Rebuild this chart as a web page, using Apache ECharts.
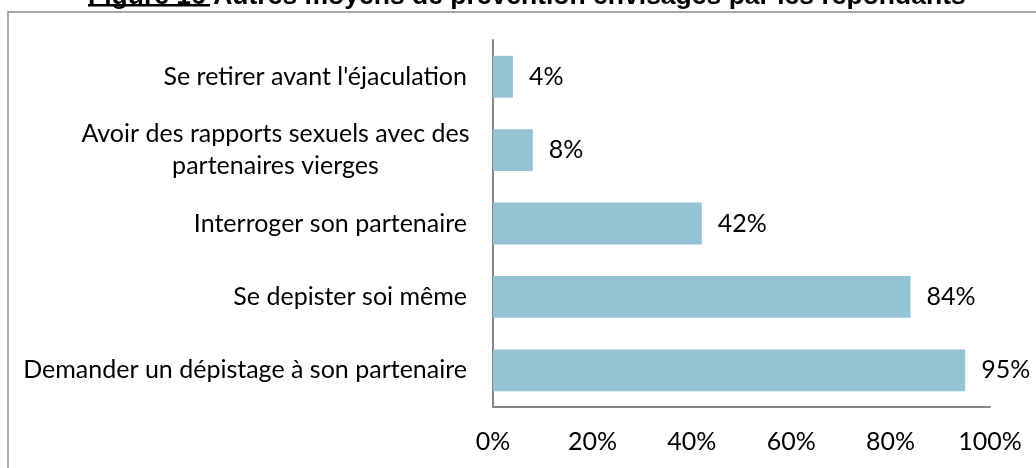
<!DOCTYPE html>
<html>
<head>
<meta charset="utf-8">
<script src="https://cdn.jsdelivr.net/npm/echarts@6/dist/echarts.min.js"></script>
<style>
  html, body { margin: 0; padding: 0; background: #fff; }
  #chart { width: 1036px; height: 468px; }
</style>
</head>
<body>
<div id="chart"></div>
<script>
// categories listed bottom to top (category axis starts at the bottom)
const categories = [
  'Demander un dépistage à son partenaire',
  'Se depister soi même',
  'Interroger son partenaire',
  'Avoir des rapports sexuels avec des\npartenaires vierges',
  "Se retirer avant l'éjaculation"
];
const percentValues = [95, 84, 42, 8, 4];
const xTicks = [0, 20, 40, 60, 80, 100];

const chart = echarts.init(document.getElementById('chart'));
const labelFont = 'Lato, "Open Sans", sans-serif';
const titleFont = 'bold 26.5px Arial, "Liberation Sans", sans-serif';

const option = {
  animation: false,
  graphic: [
    // frame around the plot
    {
      type: 'rect',
      shape: { x: 8, y: 12, width: 1040, height: 470 },
      style: { fill: 'none', stroke: '#8c8c8c', lineWidth: 1.5 },
      silent: true
    },
    // title, cut at the top of the picture
    {
      type: 'text',
      x: 88,
      y: 10,
      style: {
        text: 'Figure 16 Autres moyens de prévention envisagés par les répondants',
        font: titleFont,
        fill: '#000',
        verticalAlign: 'bottom'
      }
    },
    // underline for "Figure 16"
    {
      type: 'rect',
      shape: { x: 88, y: 4, width: 122, height: 2.5 },
      style: { fill: '#000' },
      silent: true
    }
  ],
  grid: { left: 493, right: 46, top: 40, bottom: 61, containLabel: false },
  xAxis: {
    type: 'value',
    min: 0,
    max: 100,
    interval: 20,
    axisLine: { show: true, lineStyle: { color: '#868686', width: 2 } },
    axisTick: { show: false },
    splitLine: { show: false },
    axisLabel: {
      margin: 22,
      color: '#000',
      fontSize: 25,
      fontFamily: labelFont,
      formatter: v => (xTicks.includes(v) ? v + '%' : '')
    }
  },
  yAxis: {
    type: 'category',
    data: categories,
    axisLine: { show: true, lineStyle: { color: '#868686', width: 2 } },
    axisTick: { show: false },
    axisLabel: {
      margin: 26,
      color: '#000',
      fontSize: 25,
      lineHeight: 32,
      align: 'right',
      fontFamily: labelFont,
      // wrapped labels are centred line by line, like the original
      formatter: v => v.includes('\n')
        ? v.split('\n').map(s => '{c|' + s + '}').join('\n')
        : v,
      rich: {
        c: {
          width: 383,
          align: 'center',
          fontSize: 25,
          lineHeight: 32,
          fontFamily: labelFont,
          color: '#000'
        }
      }
    }
  },
  series: [
    {
      type: 'bar',
      data: percentValues,
      barCategoryGap: '43%',
      itemStyle: { color: '#93c3d4' },
      label: {
        show: true,
        position: 'right',
        distance: 16,
        color: '#000',
        fontSize: 25,
        fontFamily: labelFont,
        formatter: p => p.value + '%'
      }
    }
  ]
};

chart.setOption(option);
</script>
</body>
</html>
